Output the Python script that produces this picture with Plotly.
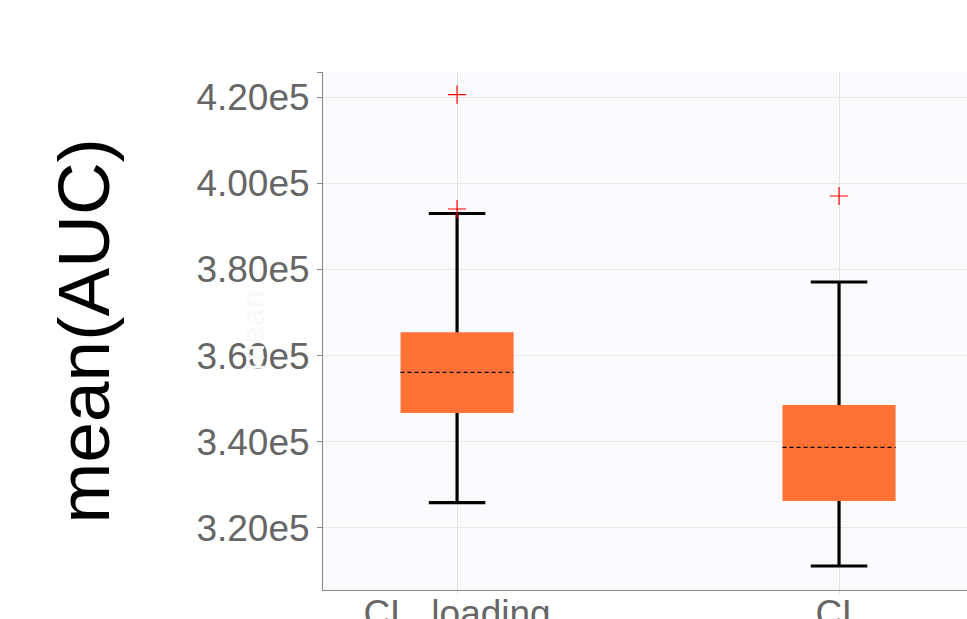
import plotly.graph_objects as go

# Summary statistics per group
categories = ["CL_loading", "CL"]
q1_vals = [346660, 326220]
median_vals = [356120, 338695]
q3_vals = [365410, 348520]
whisker_low = [325830, 311120]
whisker_high = [393010, 377094]
outliers = [[420604, 394053], [397072]]

# Axis settings
y_range = [305546, 425877]
y_tick_vals = [320000, 340000, 360000, 380000, 400000, 420000]
y_tick_text = ["3.20e5", "3.40e5", "3.60e5", "3.80e5", "4.00e5", "4.20e5"]
x_range = [-0.351, 1.335]

BOX_HALF = 0.148
CAP_HALF = 0.074
FONT = "Liberation Sans, Arial, sans-serif"

positions = list(range(len(categories)))

box_x, box_y = [], []
wh_x, wh_y = [], []
med_x, med_y = [], []
out_x, out_y = [], []
for p, lo, q1, med, q3, hi, outs in zip(positions, whisker_low, q1_vals,
                                         median_vals, q3_vals, whisker_high, outliers):
    box_x += [p - BOX_HALF, p + BOX_HALF, p + BOX_HALF, p - BOX_HALF, p - BOX_HALF, None]
    box_y += [q1, q1, q3, q3, q1, None]
    wh_x += [p, p, None, p - CAP_HALF, p + CAP_HALF, None,
             p, p, None, p - CAP_HALF, p + CAP_HALF, None]
    wh_y += [q3, hi, None, hi, hi, None, q1, lo, None, lo, lo, None]
    med_x += [p - BOX_HALF, p + BOX_HALF, None]
    med_y += [med, med, None]
    out_x += [p] * len(outs)
    out_y += list(outs)

fig = go.Figure()
fig.add_trace(go.Scatter(x=box_x, y=box_y, mode="lines", fill="toself",
                         fillcolor="rgba(255,95,25,0.88)", line=dict(width=0),
                         hoverinfo="skip"))
fig.add_trace(go.Scatter(x=wh_x, y=wh_y, mode="lines",
                         line=dict(color="black", width=3.2)))
fig.add_trace(go.Scatter(x=med_x, y=med_y, mode="lines",
                         line=dict(color="black", width=1.3, dash="4px,3px")))
fig.add_trace(go.Scatter(x=out_x, y=out_y, mode="markers",
                         marker=dict(symbol="cross-thin", size=13,
                                     line=dict(color="red", width=1.2))))

fig.update_layout(
    width=967, height=619,
    margin=dict(l=323, r=0, t=72, b=29),
    paper_bgcolor="white",
    plot_bgcolor="#fafafc",
    showlegend=False,
    font=dict(family=FONT),
    annotations=[
        dict(text="mean(AUC)", textangle=-90, xref="paper", yref="paper",
             x=-0.372, y=0.5, xanchor="center", yanchor="middle", showarrow=False,
             font=dict(family=FONT, size=73, color="black")),
        dict(text="mean", textangle=-90, xref="paper", yref="paper",
             x=-0.109, y=0.5, xanchor="center", yanchor="middle", showarrow=False,
             font=dict(family=FONT, size=32, color="#f8f8f8")),
    ],
)
fig.update_xaxes(
    range=x_range, tickmode="array", tickvals=positions, ticktext=categories,
    showline=True, linecolor="#888", linewidth=1, automargin=False,
    ticks="outside", ticklen=3, tickcolor="#ddd", ticklabelstandoff=-12,
    showgrid=True, gridcolor="#e2e2e2", zeroline=False,
    tickfont=dict(family=FONT, size=37, color="#666"),
)
fig.update_yaxes(
    range=y_range, tickmode="array", automargin=False,
    tickvals=y_tick_vals + [y_range[1]], ticktext=y_tick_text + [""],
    showline=True, linecolor="#888", linewidth=1,
    ticks="outside", ticklen=5, tickcolor="#888",
    showgrid=True, gridcolor="#e8e8e8", zeroline=False,
    tickfont=dict(family=FONT, size=37, color="#666"),
)

fig.write_html("out.html")
